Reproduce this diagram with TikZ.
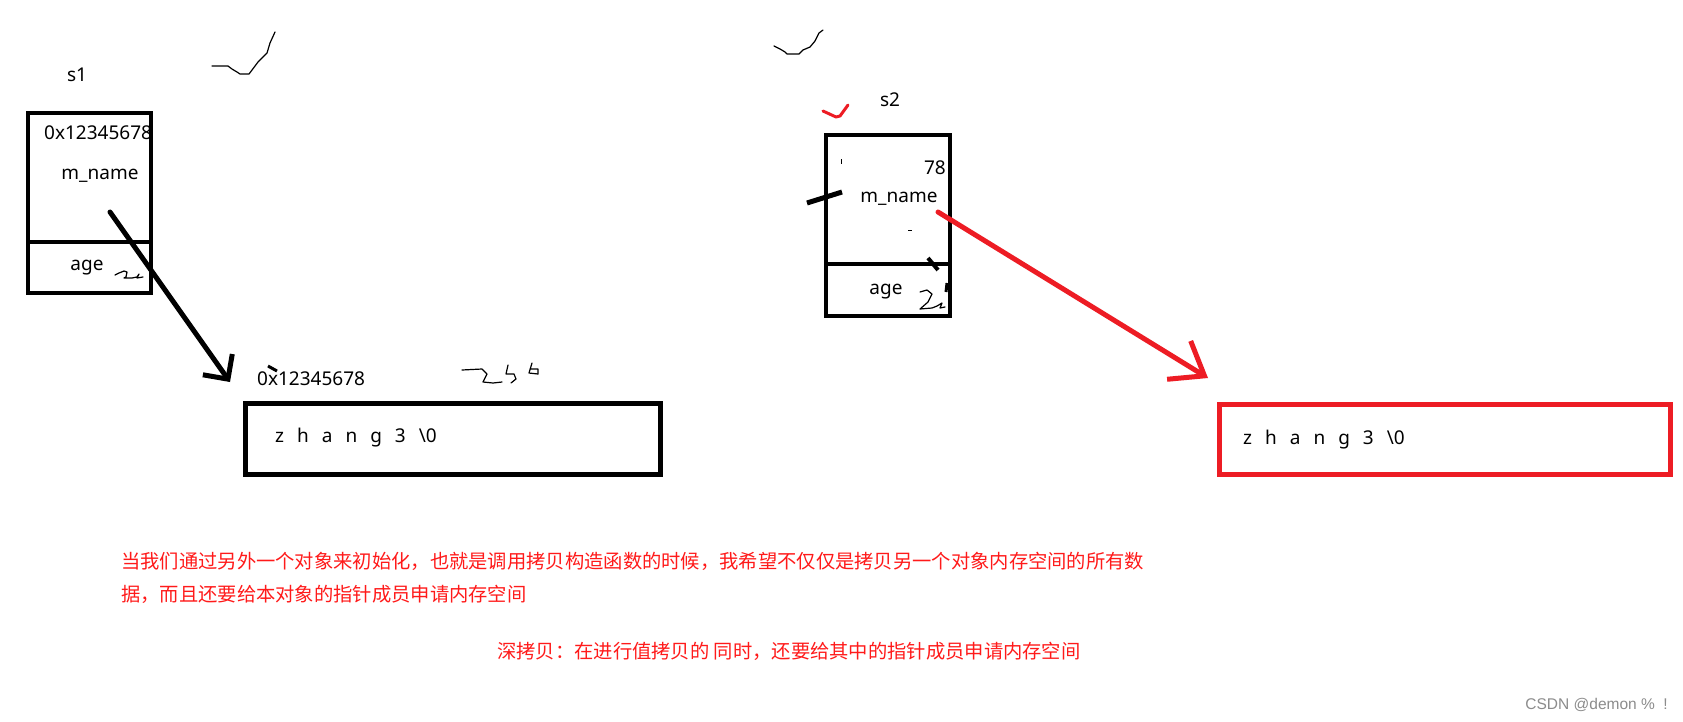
\documentclass[tikz,border=0pt]{standalone}
\usepackage{fontspec}
\setmainfont{Noto Sans}
\newfontfamily\cjk{Noto Sans CJK SC}
\newfontfamily\wmfont{Liberation Sans}
\usetikzlibrary{arrows.meta}
\definecolor{paintred}{HTML}{ED1C24}
\definecolor{notered}{HTML}{FF1A1A}

\begin{document}
\begin{tikzpicture}[x=1pt, y=-1pt,
   cell/.style={draw, line width=4pt, inner sep=0pt},
   heap/.style={draw, line width=5pt, inner sep=0pt},
   lbl/.style={inner sep=0pt, font=\fontsize{19}{23}\selectfont},
   chars/.style={lbl, anchor=west, execute at begin node={\spaceskip=13pt}},
   note/.style={inner sep=0pt, anchor=west, text=notered,
                font=\cjk\fontsize{19.3}{23}\selectfont},
   scrib/.style={line width=1.2pt, line join=round, line cap=round}]
  \useasboundingbox (0,0) rectangle (1683,721);
  \fill[white] (0,0) rectangle (1683,721);

  % object s1
  \node[cell, minimum width=123pt, minimum height=129pt] (s1name) at (89.5,177.5) {};
  \node[cell, minimum width=123pt, minimum height=51pt] (s1age) at (89.5,267.5) {};
  \node[lbl] (s1) at (77,75) {s1};
  \begin{scope}
    \clip (30,115) rectangle (149,240);
    \node[lbl, anchor=west] (s1addr) at (44,133) {0x12345678};
  \end{scope}
  \node[lbl] (s1mname) at (100,176) {m\_name};
  \node[lbl] (s1agetxt) at (87,268) {age};

  % object s2
  \node[cell, minimum width=124pt, minimum height=129pt] (s2name) at (888,199.5) {};
  \node[cell, minimum width=124pt, minimum height=52pt] (s2age) at (888,290) {};
  \node[lbl] (s2) at (890,100) {s2};
  \node[lbl, anchor=east] (s2addr) at (946,168) {78};
  \node[lbl] (s2mname) at (899,199) {m\_name};
  \node[lbl] (s2agetxt) at (886,292) {age};

  % heap blocks
  \node[heap, minimum width=415pt, minimum height=71pt] (heap1) at (453,439) {};
  \node[heap, draw=paintred, minimum width=451pt, minimum height=70pt] (heap2) at (1445,439.5) {};
  \node[lbl, anchor=west] (heap1addr) at (257,379) {0x12345678};
  \node[chars] (str1) at (275,438) {z h a n g 3 \textbackslash0};
  \node[chars] (str2) at (1243,440) {z h a n g 3 \textbackslash0};

  % pointers
  \coordinate (s1ptr) at (110,212);   \coordinate (heap1in) at (230,382);
  \coordinate (s2ptr) at (938,212);   \coordinate (heap2in) at (1208,378);
  \draw[line width=5pt, line cap=round,
        -{Straight Barb[length=18pt, width=36pt]}] (s1ptr) -- (heap1in);
  \draw[paintred, line width=5pt, line cap=round,
        -{Straight Barb[length=30pt, width=45pt]}] (s2ptr) -- (heap2in);

  % hand marks
  \draw[paintred, line width=3pt, line cap=round, line join=round]
     (823,111) -- (836,117) -- (840,116) -- (848,105);
  \draw[line width=5pt] (807,203) -- (842,192);
  \draw[line width=4pt] (928,258) -- (938,270);
  \draw[line width=3pt] (947,283) -- (946,292);
  \draw[line width=3pt] (268,366) -- (277,371);
  \draw[line width=1pt] (841,159) -- (841,164);
  \draw[line width=1pt] (908,230) -- (912,230);
  \draw[scrib] (212,66) -- (228,66) -- (232,69) -- (237,72) -- (240,74)
     -- (249,74) -- (258,62) -- (267,53) -- (270,43) -- (275,32);
  \draw[scrib] (774,46) -- (780,49) -- (785,52) -- (787,54) -- (799,54)
     -- (803,50) -- (810,47) -- (815,41) -- (819,33) -- (823,30);
  \draw[scrib] (115,275) -- (119,273) -- (124,271) -- (127,272) -- (126,277)
     -- (124,278) -- (132,278) -- (137,277) -- (139,274) -- (137,278) -- (143,277);
  \draw[scrib] (920,292) -- (927,290) -- (932,294) -- (928,302) -- (920,309)
     -- (932,308) -- (937,306) -- (942,303) -- (940,308) -- (945,307);
  \draw[scrib] (462,370) -- (482,369) -- (487,374) -- (483,382) -- (493,383) -- (502,382);
  \draw[scrib] (508,365) -- (506,374) -- (514,374) -- (516,379) -- (511,383);
  \draw[scrib] (532,363) -- (529,373) -- (538,374) -- (538,369) -- (530,369);

  % notes
  \node[note] (note1) at (121,561) {当我们通过另外一个对象来初始化，也就是调用拷贝构造函数的时候，我希望不仅仅是拷贝另一个对象内存空间的所有数};
  \node[note] (note2) at (121,594) {据，而且还要给本对象的指针成员申请内存空间};
  \node[note] (note3) at (497,651) {深拷贝：在进行值拷贝的 同时，还要给其中的指针成员申请内存空间};
  \node[anchor=east, inner sep=0pt, text=black!45,
        font=\wmfont\fontsize{15.5}{18}\selectfont] (mark) at (1668,705) {CSDN @demon \%\ \ !};
\end{tikzpicture}
\end{document}
